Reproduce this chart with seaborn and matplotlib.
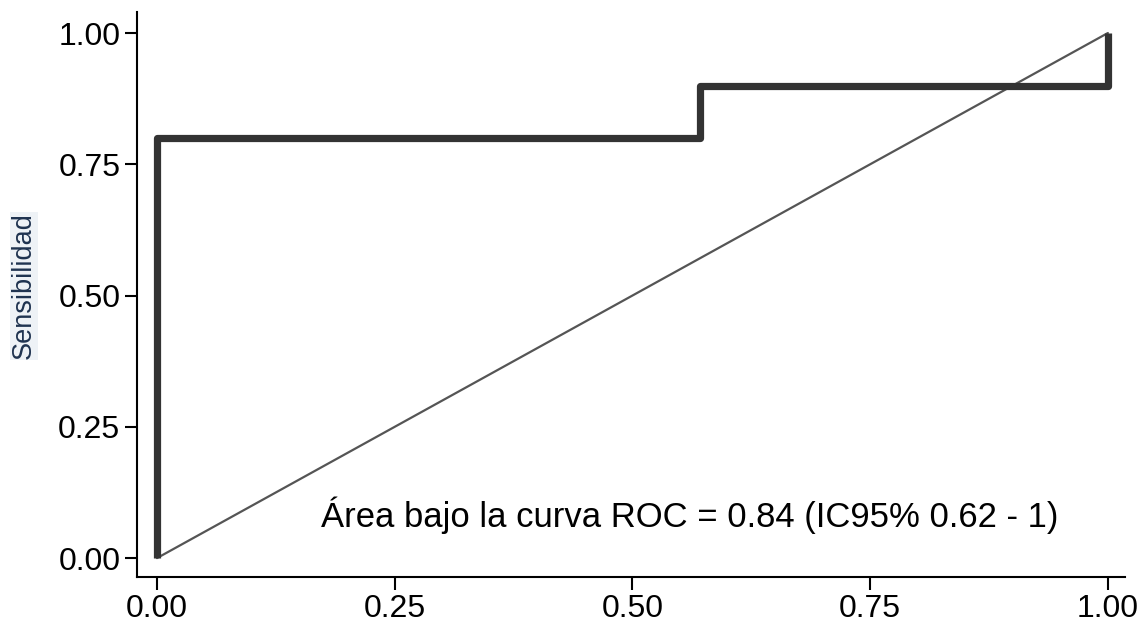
import matplotlib
matplotlib.use("Agg")
import matplotlib.pyplot as plt
import seaborn as sns
import pandas as pd

# ROC curve points (1 - especificidad, sensibilidad)
fpr = [0.0, 0.0, 0.571, 0.571, 1.0, 1.0]
tpr = [0.0, 0.8, 0.8, 0.9, 0.9, 1.0]
ref_x = [0.0, 1.0]
ref_y = [0.0, 1.0]
ticks = [0.0, 0.25, 0.5, 0.75, 1.0]
tick_labels = ["0.00", "0.25", "0.50", "0.75", "1.00"]
annotation = "Área bajo la curva ROC = 0.84 (IC95% 0.62 - 1)"
ylabel = "Sensibilidad"

sns.set_theme(style="ticks")
plt.rcParams["font.family"] = ["Liberation Sans", "DejaVu Sans"]

fig = plt.figure(figsize=(11.43, 6.25), dpi=100)
ax = fig.add_axes([137 / 1143, 48 / 625, (1125 - 137) / 1143, (613 - 48) / 625])

roc = pd.DataFrame({"fpr": fpr, "tpr": tpr})
diag = pd.DataFrame({"x": ref_x, "y": ref_y})
sns.lineplot(data=diag, x="x", y="y", ax=ax, color="#555555", linewidth=1.6,
             sort=False, estimator=None)
sns.lineplot(data=roc, x="fpr", y="tpr", ax=ax, color="#333333", linewidth=5.2,
             sort=False, estimator=None, solid_joinstyle="round", solid_capstyle="butt")

ax.set_xlim(-0.021, 1.018)
ax.set_ylim(-0.036, 1.04)
ax.set_xticks(ticks)
ax.set_xticklabels(tick_labels)
ax.set_yticks(ticks)
ax.set_yticklabels(tick_labels)
ax.tick_params(axis="both", labelsize=23, length=9, width=1.5, color="black",
               labelcolor="black", direction="out")
ax.tick_params(axis="x", pad=3)
ax.tick_params(axis="y", pad=3)
for s in ["top", "right"]:
    ax.spines[s].set_visible(False)
for s in ["left", "bottom"]:
    ax.spines[s].set_color("black")
    ax.spines[s].set_linewidth(1.5)

ax.set_xlabel("")
ax.set_ylabel(ylabel, fontsize=19.5, color="#1f3350",
              bbox=dict(facecolor="#eef2f6", edgecolor="none", pad=0.5))
ax.yaxis.set_label_coords(-0.101, 0.515)
ax.text(0.173, 0.059, annotation, fontsize=24.9, color="black", ha="left", va="baseline")

fig.savefig("out.png", dpi=100, facecolor="white")
